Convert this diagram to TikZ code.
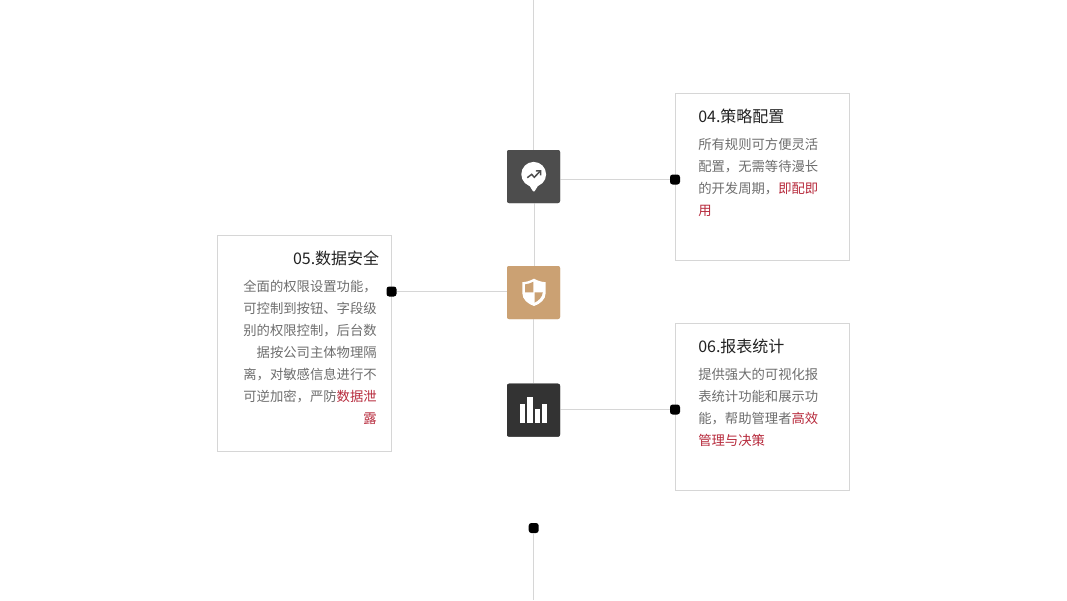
\documentclass[tikz,border=0pt]{standalone}
\usepackage{fontspec}
\setmainfont{Noto Sans CJK SC}
\usetikzlibrary{arrows.meta,positioning}
\definecolor{linegray}{HTML}{D6D6D6}
\definecolor{bodygray}{HTML}{6E6E6E}
\definecolor{titleblack}{HTML}{222222}
\definecolor{hotred}{HTML}{B72A3C}
\definecolor{icondark}{HTML}{4D4D4D}
\definecolor{icontan}{HTML}{CBA173}
\definecolor{iconblack}{HTML}{333333}
\newcommand{\hot}[1]{\textcolor{hotred}{#1}}
\begin{document}
\begin{tikzpicture}[x=0.75pt,y=-0.75pt,
  card/.style={draw=linegray,line width=0.75pt,fill=white,minimum width=130.5pt,inner sep=0pt},
  icon/.style={minimum size=39.75pt,inner sep=0pt,rounded corners=1.5pt},
  dot/.style={fill=black,minimum size=7.5pt,inner sep=0pt,rounded corners=2pt},
  link/.style={draw=linegray,line width=0.75pt},
  title/.style={font=\fontsize{12}{15}\selectfont,text=titleblack,inner sep=0pt},
  body/.style={font=\fontsize{10}{16.5}\selectfont,text=bodygray,inner sep=0pt}]
  \useasboundingbox (0,0) rectangle (1067,600);
  \node[card,minimum height=125.25pt,anchor=north west] (card04) at (675,93) {};
  \node[card,minimum height=162.25pt,anchor=north west] (card05) at (217,235) {};
  \node[card,minimum height=125.25pt,anchor=north west] (card06) at (675,323) {};
  \node[icon,fill=icondark] (icon04) at (533.5,176.5) {};
  \node[icon,fill=icontan] (icon05) at (533.5,292.5) {};
  \node[icon,fill=iconblack] (icon06) at (533.5,410.2) {};
  \node[dot] (dot04) at (675,179.5) {};
  \node[dot] (dot05) at (391.5,291.5) {};
  \node[dot] (dot06) at (675,409.5) {};
  \node[dot] (dotend) at (533.7,528) {};
  \coordinate (top) at (533,0);
  \coordinate (bottom) at (533.7,600);
  % spine
  \draw[link] (top) -- (top |- icon04.north);
  \draw[link] ([xshift=0.75pt]icon04.south) -- ([xshift=0.75pt]icon05.north);
  \draw[link] (icon05.south) -- (icon06.north);
  \draw[link] (dotend) -- (bottom);
  % branches
  \foreach \n in {04,05,06}{
    \draw[link] (dot\n) -- (dot\n -| icon\n.center);
  }
  \node[icon,fill=icondark] at (icon04) {};
  \node[icon,fill=icontan] at (icon05) {};
  \node[icon,fill=iconblack] at (icon06) {};
  % icons
  \fill[white] (533.7,174.3) circle (12.4);
  \fill[white,rounded corners=1pt] (529,185) -- (533.8,192.5) -- (538.5,185) -- cycle;
  \draw[icondark,line width=1.1pt] (527.3,177.7) -- (531.7,174.3) -- (534.3,177.3) -- (540,171.3);
  \draw[icondark,line width=1.1pt] (535.8,171) -- (540.6,170.8) -- (540.6,175.4);
  \fill[white] (534,278.7) .. controls (530,281) and (526,282) .. (522.3,282.2) -- (522.3,293) .. controls (522.3,299.5) and (528,304) .. (534,306) .. controls (540,304) and (545.7,299.5) .. (545.7,293) -- (545.7,282.2) .. controls (542,282) and (538,281) .. (534,278.7) -- cycle;
  \fill[icontan] (533.3,281.8) .. controls (531,283) and (528,284) .. (525,284.4) -- (525,292.3) -- (533.3,292.3) -- cycle;
  \fill[icontan] (534.6,292.3) -- (542.8,292.3) .. controls (542.5,297) and (538.5,300.8) .. (534.6,302.6) -- cycle;
  \foreach \x/\w/\t in {520/5/404.3,527/5.7/397,534.7/5/409.3,542/5/404.3}{
    \fill[white] (\x,\t) rectangle (\x+\w,423.3);
  }
  % texts
  \node[title,anchor=base west] (title04) at (698,122) {04.策略配置};
  \node[body,anchor=north west,align=left] (body04) at (698,138) {所有规则可方便灵活\\配置，无需等待漫长\\的开发周期，\hot{即配即}\\\hot{用}};
  \node[title,anchor=base east] (title05) at (379.5,264) {05.数据安全};
  \node[body,anchor=north east,align=right] (body05) at (377,280) {全面的权限设置功能，\\可控制到按钮、字段级\\别的权限控制，后台数\\据按公司主体物理隔\\离，对敏感信息进行不\\可逆加密，严防\hot{数据泄}\\\hot{露}};
  \node[title,anchor=base west] (title06) at (698,352) {06.报表统计};
  \node[body,anchor=north west,align=left] (body06) at (698,368) {提供强大的可视化报\\表统计功能和展示功\\能，帮助管理者\hot{高效}\\\hot{管理与决策}};
\end{tikzpicture}
\end{document}
